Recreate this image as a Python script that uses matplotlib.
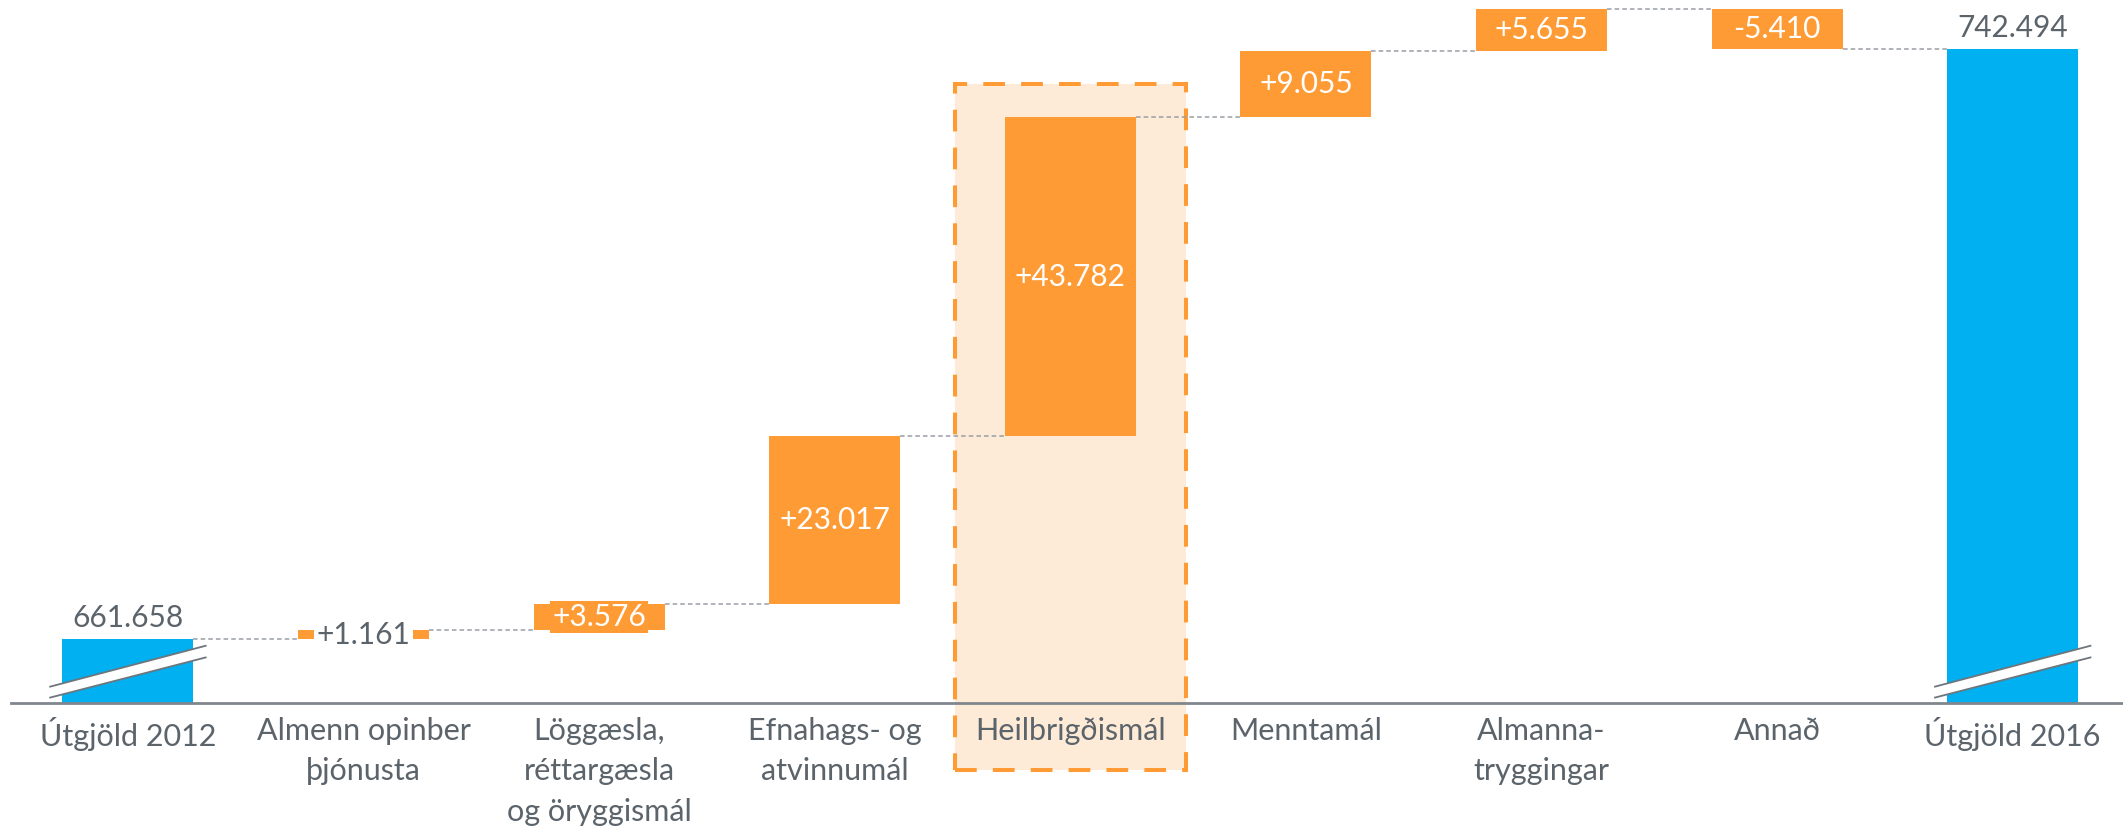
import matplotlib.pyplot as plt
from matplotlib.patches import Rectangle, Polygon

plt.rcParams['font.family'] = ['Lato', 'DejaVu Sans']

# gögn
flokkar = ['Útgjöld 2012', 'Almenn opinber\nþjónusta', 'Löggæsla,\nréttargæsla\nog öryggismál',
           'Efnahags- og\natvinnumál', 'Heilbrigðismál', 'Menntamál', 'Almanna-\ntryggingar',
           'Annað', 'Útgjöld 2016']
upphaf = 661.658
breytingar = [1.161, 3.576, 23.017, 43.782, 9.055, 5.655, -5.410]
lok = 742.494
ahersla = 4  # Heilbrigðismál

blar = '#00b0f0'
appels = '#ff9b35'
grar = '#5b636b'
brot = 652.9  # þar sem ásinn er brotinn

fig = plt.figure(figsize=(21.23, 8.26), dpi=100)
ax = fig.add_axes([0, 0, 1, 1])
ax.set_xlim(-0.543, 8.468)
ax.set_ylim(636.0, 749.2)
ax.axis('off')

n = len(flokkar)
w = 0.556

# áherslukassi
ax.add_patch(Rectangle((ahersla - 0.49, 643.7), 0.98, 737.7 - 643.7, facecolor='#fdebd7',
                       edgecolor=appels, lw=2.9, linestyle=(0, (5.4, 4)), zorder=1))

# heildarsúlur
ax.bar([0, n - 1], [upphaf - brot, lok - brot], bottom=brot, width=w, color=blar, zorder=3)
ax.annotate(f'{upphaf:.3f}', (0, upphaf), xytext=(0, 5), textcoords='offset points',
            ha='center', va='bottom', fontsize=21.5, color=grar)
ax.annotate(f'{lok:.3f}', (n - 1, lok), xytext=(0, 5), textcoords='offset points',
            ha='center', va='bottom', fontsize=21.5, color=grar)

# breytingar
stig = [upphaf]
cum = upphaf
for i, d in enumerate(breytingar):
    x = i + 1
    ax.bar(x, d, bottom=cum, width=w, color=appels, zorder=3)
    if abs(d) < 2:
        ax.text(x, cum + d / 2, f'{d:+.3f}', ha='center', va='center', fontsize=21.5, color=grar,
                zorder=4, bbox=dict(boxstyle='square,pad=0.1', fc='white', ec='none'))
    else:
        ax.text(x, cum + d / 2, f'{d:+.3f}', ha='center', va='center', fontsize=21.5, color='white',
                zorder=4, bbox=dict(boxstyle='square,pad=0.07', fc=appels, ec='none'))
    cum += d
    stig.append(cum)

# tengilínur
for i in range(n - 1):
    ax.plot([i + w / 2, i + 1 - w / 2], [stig[i], stig[i]], color='#9a9fa5', lw=1.1,
            linestyle=(0, (3, 2)), zorder=2)

# ás
ax.plot([-0.496, 8.468], [brot, brot], color='#7f868d', lw=2, zorder=5, clip_on=False)

# brotmerki
for x in [0, n - 1]:
    x0, x1 = x - 0.33, x + 0.33
    ax.add_patch(Polygon([(x0, brot + 0.7), (x1, brot + 6.2), (x1, brot + 7.8), (x0, brot + 2.2)],
                         closed=True, fc='white', ec='none', zorder=4))
    ax.plot([x0, x1], [brot + 0.7, brot + 6.2], color='#6d757d', lw=1.3, zorder=5)
    ax.plot([x0, x1], [brot + 2.2, brot + 7.8], color='#6d757d', lw=1.3, zorder=5)

# flokkaheiti
for i, f in enumerate(flokkar):
    ax.annotate(f, (i, brot), xytext=(0, -10), textcoords='offset points', ha='center',
                va='top', fontsize=22, color=grar, linespacing=1.55)

fig.savefig('out.png', dpi=100)
